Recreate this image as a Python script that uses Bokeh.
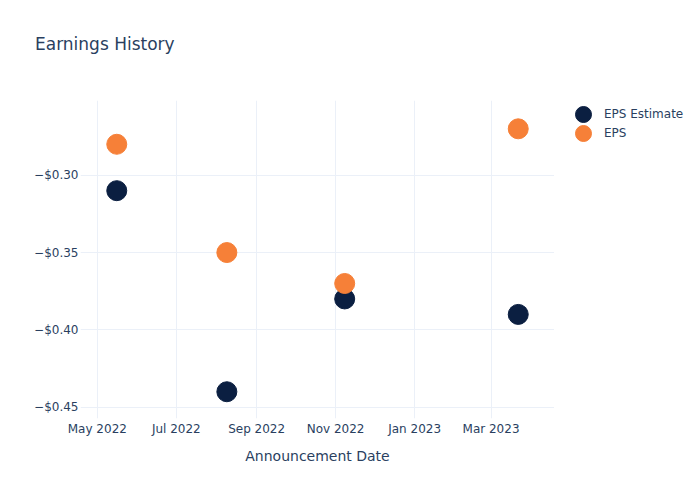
from datetime import datetime
from bokeh.plotting import figure
from bokeh.layouts import row, column
from bokeh.models import (Range1d, FixedTicker, CustomJSTickFormatter, Legend, LegendItem,
                          ColumnDataSource, Div)
from bokeh.embed import file_html
from bokeh.resources import INLINE

# ---- data ----
dates = [datetime(2022, 5, 16), datetime(2022, 8, 9), datetime(2022, 11, 8), datetime(2023, 3, 22)]
eps_estimate = [-0.31, -0.44, -0.38, -0.39]
eps_actual = [-0.28, -0.35, -0.37, -0.27]
x_tick_dates = [datetime(2022, 5, 1), datetime(2022, 7, 1), datetime(2022, 9, 1),
                datetime(2022, 11, 1), datetime(2023, 1, 1), datetime(2023, 3, 1)]
y_ticks = [-0.45, -0.40, -0.35, -0.30]
series_names = ["EPS Estimate", "EPS"]
title_text = "Earnings History"

TEXT = "#2a3f5f"
GRID = "#ebf0f8"
NAVY = "#0b1f41"
ORANGE = "#f68038"
FONT = "DejaVu Sans"

W, H = 684, 484
TH = 60                      # height of the title strip
FL, FR, FT, FB = 80, 554, 100, 418
PH = H - TH

title_div = Div(text=title_text, width=W, height=TH, margin=(0, 0, 0, 0),
                styles={"font-family": FONT, "font-size": "17px", "color": TEXT,
                        "line-height": "20px", "padding-left": "35px", "padding-top": "34px",
                        "box-sizing": "border-box", "white-space": "nowrap"})

p = figure(width=FR, height=PH, x_axis_type="datetime", output_backend="svg",
           toolbar_location=None, title=None,
           x_range=Range1d(datetime(2022, 4, 18), datetime(2023, 4, 19)),
           y_range=Range1d(-0.4573, -0.2517),
           min_border_left=FL, min_border_right=0,
           min_border_top=FT - TH, min_border_bottom=H - FB)
p.outline_line_color = None
p.background_fill_color = "white"
p.border_fill_color = "white"

src_e = ColumnDataSource(dict(x=dates, y=eps_estimate))
src_a = ColumnDataSource(dict(x=dates, y=eps_actual))
p.scatter("x", "y", source=src_e, size=20, fill_color=NAVY, line_color=NAVY)
p.scatter("x", "y", source=src_a, size=20, fill_color=ORANGE, line_color=ORANGE)

ts = [d.timestamp() * 1000 for d in x_tick_dates]
p.xaxis.ticker = FixedTicker(ticks=ts)
p.xaxis.formatter = CustomJSTickFormatter(code="""
const m = ['Jan','Feb','Mar','Apr','May','Jun','Jul','Aug','Sep','Oct','Nov','Dec'];
const d = new Date(tick);
return m[d.getUTCMonth()] + ' ' + d.getUTCFullYear();
""")
p.yaxis.ticker = FixedTicker(ticks=y_ticks)
p.yaxis.formatter = CustomJSTickFormatter(code="""
return (tick < 0 ? '\u2212' : '') + '$' + Math.abs(tick).toFixed(2);
""")

for ax in (p.xaxis[0], p.yaxis[0]):
    ax.axis_line_color = None
    ax.major_tick_line_color = None
    ax.minor_tick_line_color = None
    ax.major_tick_out = 0
    ax.major_tick_in = 0
    ax.minor_tick_out = 0
    ax.minor_tick_in = 0
    ax.major_label_text_font = FONT
    ax.major_label_text_font_size = "12px"
    ax.major_label_text_color = TEXT
p.xaxis.major_label_standoff = 3
p.yaxis.major_label_standoff = 2
p.xaxis.axis_label = "Announcement Date"
p.xaxis.axis_label_text_font = FONT
p.xaxis.axis_label_text_font_size = "14px"
p.xaxis.axis_label_text_font_style = "normal"
p.xaxis.axis_label_text_color = TEXT
p.xaxis.axis_label_standoff = 9

p.xgrid.grid_line_color = GRID
p.ygrid.grid_line_color = GRID
p.xgrid.grid_line_width = 1
p.ygrid.grid_line_width = 1

# ---- legend panel (separate figure to the right; its frame is aligned with the main frame) ----
# the legend figure's ranges do not include the data, so only the legend swatches show
lf = figure(width=W - FR, height=PH, output_backend="svg", toolbar_location=None,
            x_range=Range1d(0, 1), y_range=Range1d(0, 1),
            min_border=0, title=None)
lf.axis.visible = False
lf.grid.visible = False
lf.outline_line_color = None
lf.border_fill_color = "white"
lf.background_fill_color = "white"

leg_e = lf.scatter(x="x", y="y", source=ColumnDataSource(dict(x=dates, y=eps_estimate)),
                   fill_color=NAVY, line_color=NAVY)
leg_a = lf.scatter(x="x", y="y", source=ColumnDataSource(dict(x=dates, y=eps_actual)),
                   fill_color=ORANGE, line_color=ORANGE)

for name, rend, ybot in [(series_names[0], leg_e, 284), (series_names[1], leg_a, 265)]:
    lg = Legend(items=[LegendItem(label=name, renderers=[rend])],
                location=(9, ybot), orientation="vertical",
                glyph_width=40, glyph_height=40, label_height=19,
                padding=0, margin=0, label_standoff=1,
                label_text_font=FONT, label_text_font_size="12px", label_text_color=TEXT,
                border_line_color=None, background_fill_alpha=0)
    lf.add_layout(lg, "center")

layout = column(title_div, row(p, lf), spacing=0)
open("out.html", "w").write(file_html(layout, INLINE))
